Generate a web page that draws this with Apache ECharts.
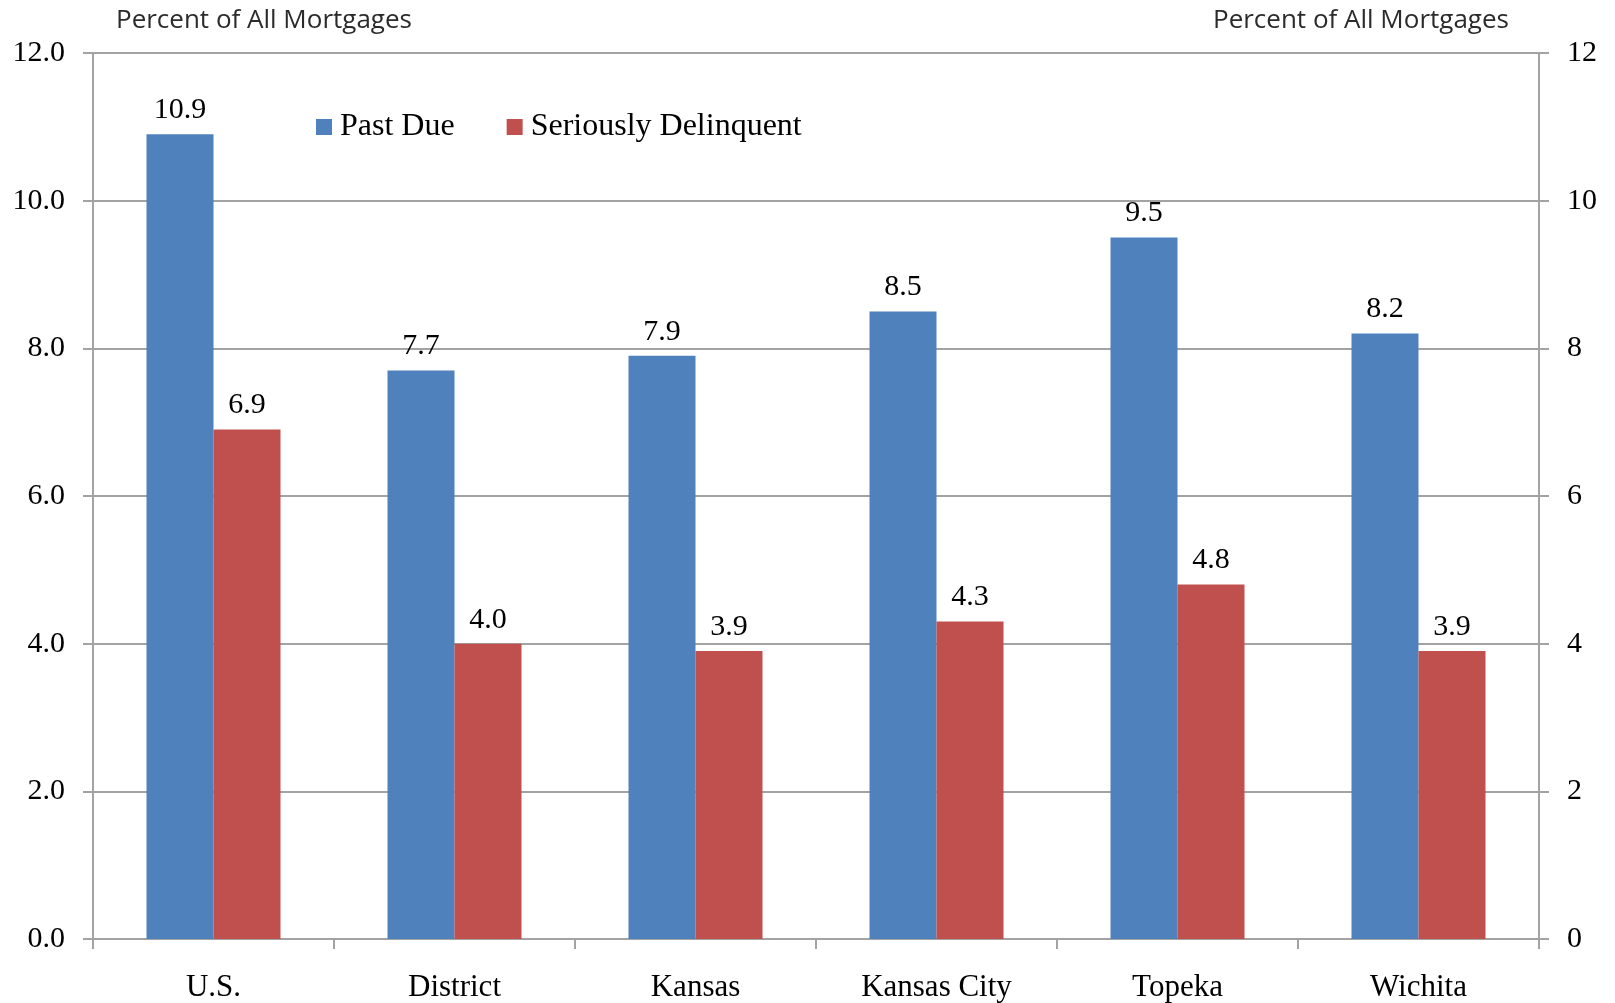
<!DOCTYPE html>
<html>
<head>
<meta charset="utf-8">
<script src="https://cdn.jsdelivr.net/npm/echarts@6/dist/echarts.min.js"></script>
<style>
  html, body { margin: 0; padding: 0; background: #fff; }
  #chart { width: 1615px; height: 1003px; }
</style>
</head>
<body>
<div id="chart"></div>
<script>
// categories and values
const regions = ["U.S.", "District", "Kansas", "Kansas City", "Topeka", "Wichita"];
const pastDue = [10.9, 7.7, 7.9, 8.5, 9.5, 8.2];
const seriouslyDelinquent = [6.9, 4.0, 3.9, 4.3, 4.8, 3.9];
const axisTitle = "Percent of All Mortgages";

const serif = "Liberation Serif";
const grayLine = { color: "#a3a3a3", width: 2 };

const chart = echarts.init(document.getElementById("chart"));
chart.setOption({
  animation: false,
  color: ["#4f81bd", "#c0504d"],
  grid: { left: 93, right: 76, top: 53, bottom: 63 },
  legend: {
    left: 311,
    top: 106,
    itemWidth: 16,
    itemHeight: 16,
    itemGap: 52,
    icon: "rect",
    textStyle: { fontFamily: serif, fontSize: 32, color: "#000", padding: [0, 0, 0, 3] },
    data: ["Past Due", "Seriously Delinquent"]
  },
  graphic: [
    {
      type: "text", left: 116, top: 8,
      style: { text: axisTitle, font: "26px 'Open Sans'", fill: "#2b2b2b" }
    },
    {
      type: "text", left: 1213, top: 8,
      style: { text: axisTitle, font: "26px 'Open Sans'", fill: "#2b2b2b" }
    }
  ],
  xAxis: {
    type: "category",
    data: regions,
    axisLine: { lineStyle: grayLine },
    axisTick: { show: true, length: 10, lineStyle: grayLine },
    axisLabel: { fontFamily: serif, fontSize: 31, color: "#000", margin: 33 }
  },
  yAxis: [
    {
      type: "value", min: 0, max: 12, interval: 2,
      axisLine: { show: true, lineStyle: grayLine },
      axisTick: { show: true, length: 10, lineStyle: grayLine },
      splitLine: { lineStyle: grayLine },
      axisLabel: {
        fontFamily: serif, fontSize: 30, color: "#000", margin: 28,
        formatter: v => v.toFixed(1)
      }
    },
    {
      type: "value", min: 0, max: 12, interval: 2, position: "right",
      axisLine: { show: true, lineStyle: grayLine },
      axisTick: { show: true, length: 10, lineStyle: grayLine },
      splitLine: { show: false },
      axisLabel: { fontFamily: serif, fontSize: 30, color: "#000", margin: 28 }
    }
  ],
  series: [
    {
      name: "Past Due",
      type: "bar",
      data: pastDue,
      barWidth: 67,
      barGap: "0%",
      label: {
        show: true, position: "top", distance: 9,
        fontFamily: serif, fontSize: 30, color: "#000",
        formatter: p => p.value.toFixed(1)
      }
    },
    {
      name: "Seriously Delinquent",
      type: "bar",
      data: seriouslyDelinquent,
      barWidth: 67,
      barGap: "0%",
      label: {
        show: true, position: "top", distance: 9,
        fontFamily: serif, fontSize: 30, color: "#000",
        formatter: p => p.value.toFixed(1)
      }
    }
  ]
});
</script>
</body>
</html>
